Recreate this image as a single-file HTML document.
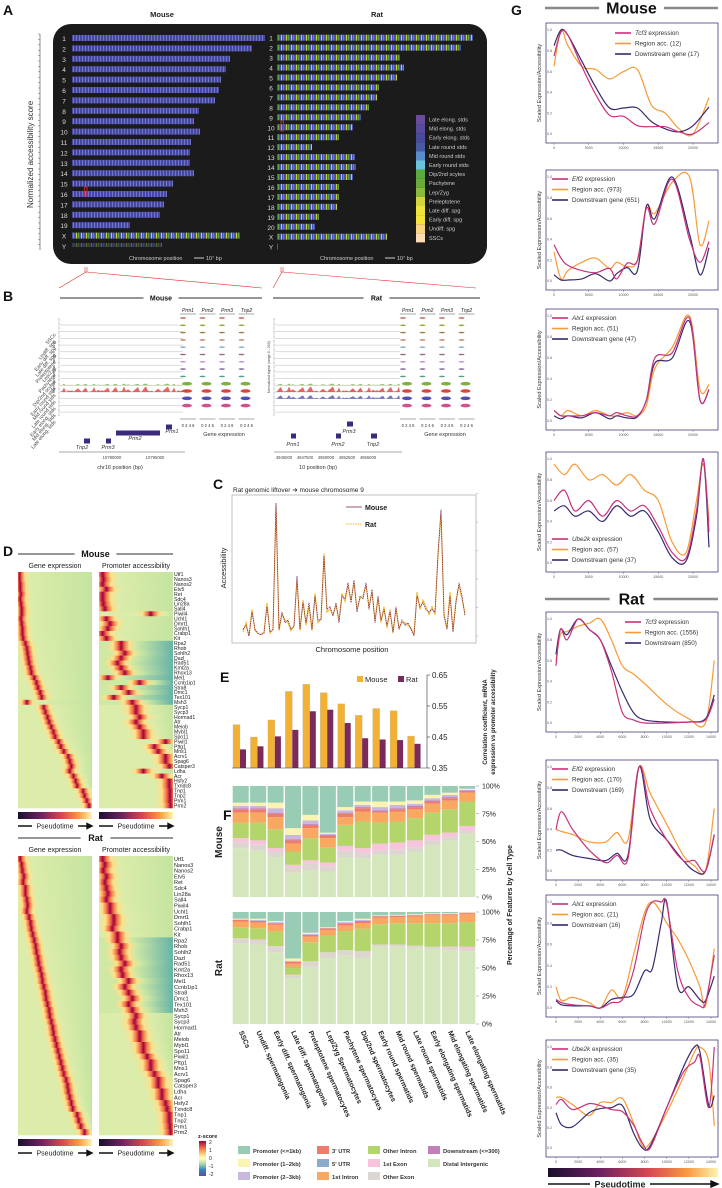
<!DOCTYPE html>
<html><head><meta charset="utf-8"><style>
html,body{margin:0;padding:0;background:#fff;}
svg{display:block;font-family:"Liberation Sans",sans-serif;}
</style></head><body>
<svg id="root" width="722" height="1188" viewBox="0 0 722 1188" xmlns="http://www.w3.org/2000/svg">
<defs id="defs">
<pattern id="mpat" width="3" height="8" patternUnits="userSpaceOnUse"><rect width="3" height="8" fill="#4848a4"/><rect x="1" width="1" height="8" fill="#6c74c4"/></pattern>
<pattern id="rpat" width="5" height="8" patternUnits="userSpaceOnUse"><rect width="5" height="8" fill="#4a54a8"/><rect x="1" width="1" height="8" fill="#c8d040"/><rect x="3" width="1" height="8" fill="#5aa048"/></pattern>
<linearGradient id="magma" x1="0" x2="1"><stop offset="0" stop-color="#1a0f2e"/><stop offset="0.3" stop-color="#6b2160"/><stop offset="0.6" stop-color="#d84a50"/><stop offset="0.82" stop-color="#f89a40"/><stop offset="1" stop-color="#fcf4b0"/></linearGradient>
<linearGradient id="zgrad" x1="0" y1="0" x2="0" y2="1"><stop offset="0" stop-color="#9e0142"/><stop offset="0.2" stop-color="#f46d43"/><stop offset="0.4" stop-color="#fee08b"/><stop offset="0.5" stop-color="#ffffbf"/><stop offset="0.65" stop-color="#abdda4"/><stop offset="0.82" stop-color="#3288bd"/><stop offset="1" stop-color="#5e4fa2"/></linearGradient>
</defs>
</svg>
<script>
// ---------- DATA ----------
const mouseChrNames=["1","2","3","4","5","6","7","8","9","10","11","12","13","14","15","16","17","18","19","X","Y"];
const mouseChrEnd=[265,252,230,226,221,219,215,199,194,200,191,190,190,194,173,167,164,160,130,240,162];
const ratChrNames=["1","2","3","4","5","6","7","8","9","10","11","12","13","14","15","16","17","18","19","20","X","Y"];
const ratChrEnd=[473,461,400,404,397,379,377,369,361,353,339,312,355,356,353,339,339,337,319,315,387,278];
const cellLegend=["Late elong. stds","Mid elong. stds","Early elong. stds","Late round stds","Mid round stds","Early round stds","Dip/2nd scytes","Pachytene","Lep/Zyg","Preleptotene","Late diff. spg","Early diff. spg","Undiff. spg","SSCs"];
const cellColors=["#6a4c9c","#5a4a9c","#4a4a9a","#4a5aa0","#5a8ccc","#6cc4dc","#5aaa3c","#6aaa3c","#8aba3c","#d4d43c","#f0e43c","#f4e43c","#fcd47c","#fcdcb4"];

const cMouse=[0.05,0.08,0.0,0.18,0.05,0.02,0.01,0.02,0.22,0.03,0.05,1.0,0.05,0.18,0.1,0.12,0.05,0.07,0.45,0.05,0.25,0.1,0.25,0.05,0.3,0.12,0.12,0.6,0.2,0.22,0.15,0.25,0.1,0.3,0.28,0.4,0.25,0.42,0.18,0.3,0.28,0.4,0.2,0.35,0.1,0.3,0.12,0.2,0.08,0.18,0.03,0.22,0.05,0.12,0.08,0.1,0.05,0.0,0.3,0.22,0.25,0.2,0.18,0.2,0.18,0.62,0.95,0.15,0.05,0.3,0.03,0.25,0.4,0.3,0.15];
const cRat=[0.03,0.1,0.0,0.2,0.04,0.02,0.01,0.03,0.25,0.02,0.05,0.98,0.04,0.16,0.12,0.1,0.04,0.08,0.42,0.04,0.27,0.08,0.22,0.04,0.32,0.1,0.13,0.62,0.18,0.2,0.16,0.23,0.12,0.32,0.26,0.38,0.27,0.4,0.2,0.28,0.3,0.38,0.22,0.33,0.12,0.28,0.1,0.22,0.06,0.2,0.02,0.2,0.06,0.1,0.1,0.08,0.06,0.01,0.33,0.2,0.27,0.22,0.16,0.22,0.16,0.6,0.92,0.17,0.06,0.33,0.04,0.27,0.38,0.28,0.17];

const eMouse=[0.49,0.45,0.505,0.597,0.62,0.593,0.557,0.52,0.542,0.535,0.453];
const eRat=[0.41,0.42,0.452,0.473,0.533,0.538,0.495,0.446,0.442,0.44,0.428];
const eTicks=[0.35,0.45,0.55,0.65];

const fCats=["SSCs","Undiff. spermatogonia","Early diff. spermatogonia","Late diff. spermatogonia","Preleptotene spermatocytes","Lep/Zyg Spermatocytes","Pachytene spermatocytes","Dip/2nd spermatocytes","Early round spermatids","Mid round spermatids","Late round spermatids","Early elongating spermatids","Mid elongating spermatids","Late elongating spermatids"];
const fFeatures=["Distal Intergenic","Other Exon","1st Exon","Other Intron","1st Intron","3' UTR","Downstream (<=300)","Promoter (2–3kb)","Promoter (1–2kb)","Promoter (<=1kb)"];
const fColors=["#d4e6bc","#ddd5cf","#f8c4dc","#b4d46c","#f8a860","#ee7c6c","#c080b8","#c8b8dc","#fbf4b0","#98ccb4"];
const fMouse=[[44,5,4,14,9,3,1,2,3],[42,5,4,16,9,3,1,2,3],[36,5,3,17,11,3,1,4,5],[22,5,2,12,7,3,1,4,6],[24,6,3,20,9,3,1,3,5],[23,5,3,14,8,2,1,1,1],[36,6,4,19,7,3,1,2,3],[35,5,4,24,9,3,1,2,3],[38,4,6,19,9,1,1,3,5],[38,5,6,19,9,2,1,3,3],[41,4,6,20,8,2,1,2,3],[47,4,5,20,8,2,1,2,3],[51,3,4,21,8,2,1,2,2],[57,3,4,22,8,1,1,0.5,1]];
const fRat=[[72,4,0.5,10,5,1.5,0,0.5,0.5],[71,4,0.5,10,5,1.5,0,1,1],[64,5,0.5,13,6,1.5,0,1,1],[41,2,1,6,4,1.5,0,1,2],[51,5,0,17,5,1.5,0,1,1],[59,5,0,15,5,1.5,0,0.5,0.5],[61,5,0,17,5,2,0,1,1],[59,6,0,20,5,2,0,1,1],[69,2,0,18,6,1,0,0.5,0.5],[69,2,0,19,5.5,1,0,0.5,0.5],[68,2,0,20,6,1,0,0.5,0.5],[67,2,0,21,7,1,0,0.5,0.5],[66,2,1,21,7,1,0,0.5,0.5],[65,2,2,22,7,1,0,0.5,0.5]];
const fTicks=[0,25,50,75,100];

const dGenes=["Utf1","Nanos3","Nanos2","Etv5","Ret","Sdc4","Lin28a","Sall4","Piwil4","Uchl1","Dmrt1","Sohlh1","Crabp1","Kit","Rpa2","Rhob","Sohlh2","Dazl","Rad51","Kmt2a","Rhox13","Mei1","Ccnb1ip1","Stra8","Dmc1","Tex101","Msh3","Sycp1","Sycp3","Hormad1","Atr","Meiob","Mybl1","Spo11","Piwil1","Pttg1","Mns1","Acrv1","Spag6","Catsper3","Ldha","Acr","Hsfy2","Txndc8","Tnp1","Tnp2","Prm1","Prm2"];
const dExpM=[0.02,0.02,0.03,0.03,0.04,0.03,0.04,0.05,0.05,0.04,0.05,0.06,0.06,0.07,0.1,0.12,0.13,0.14,0.15,0.17,0.18,0.22,0.25,0.27,0.3,0.32,0.12,0.35,0.37,0.4,0.42,0.45,0.48,0.5,0.55,0.58,0.62,0.68,0.7,0.72,0.7,0.75,0.78,0.8,0.88,0.9,0.93,0.96];
const dAccM=[0.05,0.06,0.05,0.1,0.05,0.05,0.06,0.08,0.7,0.1,0.15,0.12,0.05,0.1,0.3,0.3,0.35,0.3,0.25,0.3,0.35,0.12,0.55,0.3,0.4,0.2,0.45,0.5,0.5,0.55,0.5,0.55,0.6,0.6,0.9,0.75,0.8,0.9,0.9,0.95,0.6,0.85,0.95,0.95,0.96,0.96,0.96,0.97];
const dExpR=[0.03,0.05,0.06,0.08,0.07,0.1,0.1,0.12,0.13,0.12,0.15,0.17,0.18,0.2,0.22,0.24,0.25,0.27,0.28,0.3,0.32,0.33,0.35,0.37,0.38,0.4,0.42,0.43,0.45,0.47,0.48,0.5,0.52,0.54,0.56,0.58,0.6,0.62,0.65,0.67,0.68,0.7,0.72,0.74,0.8,0.82,0.85,0.9];
const dAccR=[0.05,0.08,0.06,0.1,0.08,0.1,0.12,0.1,0.15,0.15,0.2,0.2,0.18,0.25,0.25,0.3,0.28,0.3,0.35,0.3,0.32,0.4,0.35,0.4,0.45,0.4,0.45,0.5,0.48,0.5,0.55,0.55,0.6,0.6,0.65,0.7,0.7,0.75,0.8,0.8,0.85,0.85,0.9,0.92,0.95,0.95,0.96,0.97];

const gPanels=[
 {gene:"Tcf3",sp:"m",y0:23,y1:143,leg:"tr",labels:["Region acc. (12)","Downstream gene (17)"],xs:[0,1000,2000,4000,6000,8000,10000,12000,14000,16000,18000,20000,22300]},
 {gene:"Elf2",sp:"m",y0:170,y1:290,leg:"tl",labels:["Region acc. (973)","Downstream gene (651)"],xs:[0,1000,2000,4000,6000,8000,9000,10500,12000,13300,14500,17000,19500,21000,22300]},
 {gene:"Alx1",sp:"m",y0:309,y1:430,leg:"tl",labels:["Region acc. (51)","Downstream gene (47)"],xs:[0,1000,2000,4000,6000,8000,9000,10500,12000,13300,14500,17000,19500,21000,22300]},
 {gene:"Ube2k",sp:"m",y0:452,y1:572,leg:"bl",labels:["Region acc. (57)","Downstream gene (37)"],xs:[0,1500,3000,5000,7000,9000,11000,13000,15000,17000,19000,20500,21500,22300]},
 {gene:"Tcf3",sp:"r",y0:612,y1:732,leg:"tr",labels:["Region acc. (1556)","Downstream (850)"],xs:[0,400,1000,2000,3000,4000,5000,6000,7000,8000,10000,12000,13500,14300]},
 {gene:"Elf2",sp:"r",y0:760,y1:880,leg:"tl",labels:["Region acc. (170)","Downstream (169)"],xs:[0,500,1500,3000,4500,5500,6500,7500,8500,10000,11500,12500,13500,14300]},
 {gene:"Alx1",sp:"r",y0:895,y1:1017,leg:"tl",labels:["Region acc. (21)","Downstream (16)"],xs:[0,500,1500,3000,4000,5000,6000,7000,8000,8700,9500,10000,11000,12000,13000,13500,14300]},
 {gene:"Ube2k",sp:"r",y0:1040,y1:1157,leg:"tl",labels:["Region acc. (35)","Downstream gene (35)"],xs:[0,500,1500,3000,4000,5000,6000,7000,7800,8500,10000,11500,12500,13000,13800,14300]}
];
const gExp=[
 [0.75,0.98,0.95,0.65,0.38,0.18,0.17,0.08,0.07,0.07,0.02,0.0,0.11],
 [0.35,0.22,0.15,0.1,0.08,0.12,0.02,0.17,0.2,0.7,0.55,0.98,0.4,0.18,0.38],
 [0.1,0.05,0.05,0.05,0.08,0.05,0.08,0.05,0.05,0.2,0.6,0.65,0.98,0.2,0.3],
 [0.6,0.7,0.5,0.6,0.45,0.6,0.5,0.55,0.35,0.1,0.05,0.5,1.0,0.3],
 [0.55,0.9,0.8,1.0,0.9,0.8,0.5,0.1,0.03,0.0,0.0,0.01,0.03,0.23],
 [0.4,0.57,0.4,0.2,0.08,0.15,0.12,1.0,0.6,0.3,0.1,0.1,0.0,0.35],
 [0.08,0.05,0.03,0.02,0.0,0.05,0.08,0.35,0.85,1.0,1.0,0.98,0.35,0.1,0.02,0.05,0.5],
 [0.43,0.48,0.38,0.44,0.42,0.38,0.36,0.23,0.05,0.0,0.4,0.75,0.85,0.9,0.4,1.0]];
const gReg=[
 [0.65,1.0,0.85,0.65,0.62,0.53,0.6,0.62,0.28,0.2,0.05,0.0,0.35],
 [0.28,0.02,0.1,0.18,0.22,0.12,0.18,0.14,0.2,0.72,0.65,0.95,1.0,0.35,0.58],
 [0.1,0.05,0.1,0.05,0.1,0.05,0.05,0.08,0.05,0.15,0.5,0.7,1.0,0.3,0.35],
 [0.95,0.85,0.95,0.8,0.85,0.75,0.85,0.7,0.6,0.2,0.1,0.6,0.95,0.4],
 [0.6,0.85,0.88,0.93,0.96,1.0,0.8,0.55,0.47,0.38,0.18,0.04,0.0,0.6],
 [0.4,0.38,0.35,0.28,0.28,0.37,0.3,1.0,0.75,0.45,0.15,0.05,0.0,0.6],
 [0.2,0.07,0.1,0.05,0.0,0.17,0.1,0.5,0.9,1.0,0.9,0.8,0.65,0.45,0.2,0.02,0.56],
 [0.5,0.5,0.43,0.32,0.45,0.45,0.49,0.25,0.02,0.05,0.35,0.7,0.95,1.0,0.85,0.22]];
const gDown=[
 [0.85,1.0,0.95,0.7,0.45,0.25,0.25,0.25,0.12,0.05,0.02,0.08,0.26],
 [0.06,0.01,0.01,0.02,0.07,0.0,0.07,0.13,0.1,0.72,0.6,1.0,0.45,0.06,0.32],
 [0.05,0.02,0.05,0.03,0.08,0.02,0.05,0.03,0.04,0.2,0.55,0.6,0.95,0.2,0.3],
 [0.5,0.55,0.45,0.5,0.4,0.55,0.45,0.5,0.3,0.05,0.02,0.45,1.0,0.15],
 [0.66,0.9,0.85,1.0,0.9,0.8,0.55,0.3,0.1,0.03,0.01,0.01,0.04,0.27],
 [0.2,0.2,0.15,0.12,0.1,0.17,0.15,1.0,0.5,0.3,0.1,0.0,0.0,0.35],
 [0.07,0.03,0.02,0.02,0.0,0.08,0.1,0.13,0.35,0.37,0.8,1.0,0.2,0.2,0.08,0.07,0.3],
 [0.35,0.23,0.21,0.35,0.39,0.4,0.42,0.15,0.0,0.02,0.4,0.8,1.0,0.95,0.42,0.52]];
const gMouseTicks=[0,5000,10000,15000,20000];
const gRatTicks=[0,2000,4000,6000,8000,10000,12000,14000];
const gYTicks=[0,0.2,0.4,0.6,0.8,1.0];

// ---------- HELPERS ----------
const NS="http://www.w3.org/2000/svg";
const svg=document.getElementById('root');
const defs=document.getElementById('defs');
function mk(tag,attrs,parent){const e=document.createElementNS(NS,tag);for(const k in attrs)e.setAttribute(k,attrs[k]);(parent||svg).appendChild(e);return e;}
function tx(x,y,s,attrs,parent){const e=mk('text',Object.assign({x:x,y:y,'font-size':7,fill:'#222'},attrs||{}),parent);e.textContent=s;return e;}
function grp(parent){return mk('g',{},parent);}
function smooth(pts){let d="M"+pts[0][0].toFixed(1)+","+pts[0][1].toFixed(1);for(let i=0;i<pts.length-1;i++){const p0=pts[i-1]||pts[i],p1=pts[i],p2=pts[i+1],p3=pts[i+2]||p2;const c1x=p1[0]+(p2[0]-p0[0])/6,c1y=p1[1]+(p2[1]-p0[1])/6,c2x=p2[0]-(p3[0]-p1[0])/6,c2y=p2[1]-(p3[1]-p1[1])/6;d+=` C${c1x.toFixed(1)},${c1y.toFixed(1)} ${c2x.toFixed(1)},${c2y.toFixed(1)} ${p2[0].toFixed(1)},${p2[1].toFixed(1)}`;}return d;}

// panel letters
[["A",3,15],["B",3,301],["C",213,489],["D",3,556],["E",220,682],["F",223,820],["G",511,15]].forEach(l=>{
 const t=tx(l[1],l[2],l[0],{'font-size':14,'font-weight':'bold',fill:'#111'});
 
 
});

// ---------- PANEL A ----------
const gA=grp();


let t=tx(162,17,"Mouse",{'font-size':7.5,'font-weight':'bold','text-anchor':'middle'},gA);


t=tx(377,17,"Rat",{'font-size':7.5,'font-weight':'bold','text-anchor':'middle'},gA);


t=tx(0,0,"Normalized accessibility score",{'font-size':8,transform:'translate(33,208) rotate(-90)',fill:'#333'},gA);


let ax=mk('line',{x1:40,y1:34,x2:40,y2:250,stroke:'#444','stroke-width':0.6},gA);


for(let i=0;i<40;i++){const tk=mk('line',{x1:38,x2:40,y1:34+i*5.4,y2:34+i*5.4,stroke:'#444','stroke-width':0.4},gA);
 
 }
const box=mk('rect',{x:53,y:24,width:434,height:240,rx:18,fill:'#1b1b1b'},gA);


mouseChrNames.forEach((n,i)=>{const y=38+i*10.4;
 const l=tx(64,y+3,n,{'font-size':6.5,fill:'#ddd','text-anchor':'middle'},gA);
 
 
 const b=mk('rect',{x:72,y:y-3,width:mouseChrEnd[i]-72,height:i===20?4:6,fill:i>=19?'url(#rpat)':'url(#mpat)',opacity:i===20?0.4:1},gA);
 
 });
ratChrNames.forEach((n,i)=>{const y=37.7+i*9.95;
 const l=tx(271,y+3,n,{'font-size':6.5,fill:'#ddd','text-anchor':'middle'},gA);
 
 
 const b=mk('rect',{x:277,y:y-3,width:ratChrEnd[i]-277,height:6,fill:'url(#rpat)'},gA);
 
 });
let hl=mk('rect',{x:84.5,y:187,width:2.5,height:9,fill:'none',stroke:'#e03030','stroke-width':0.8},gA);


hl=mk('rect',{x:281,y:121,width:2.5,height:10,fill:'none',stroke:'#e03030','stroke-width':0.8},gA);


cellLegend.forEach((c,i)=>{const y=115+i*9.1;
 const s=mk('rect',{x:416,y:y,width:9,height:9.1,fill:cellColors[i]},gA);
 
 
 const l=tx(429,y+6.5,c,{'font-size':5.5,fill:'#ccc'},gA);
 
 });
[[129,"mouse"],[320,"rat"]].forEach(p=>{
 const l=tx(p[0],260,"Chromosome position",{'font-size':5.5,fill:'#ccc'},gA);
 
 
 const sb=mk('line',{x1:p[0]+65,x2:p[0]+75,y1:258,y2:258,stroke:'#ccc','stroke-width':1},gA);
 
 
 const l2=tx(p[0]+77,260,"10⁷ bp",{'font-size':5.5,fill:'#ccc'},gA);
 
 });
[[86,59,262],[282,273,476]].forEach(p=>{
 const z=mk('path',{d:`M${p[0]-1},267 v5 h2 v-5 M${p[0]},272 L${p[1]},288 M${p[0]},272 L${p[2]},288`,fill:'none',stroke:'#e03030','stroke-width':0.6},gA);
 
 });

// ---------- PANEL B ----------
const gB=grp();


function header(g,x0,x1,y,label,size,col){
 const w=label.length*size*0.33+6, c=(x0+x1)/2;
 const l1=mk('line',{x1:x0,x2:c-w,y1:y,y2:y,stroke:col||'#888','stroke-width':size>10?2.5:1.8},g);
 
 
 const l2=mk('line',{x1:c+w,x2:x1,y1:y,y2:y,stroke:col||'#888','stroke-width':size>10?2.5:1.8},g);
 
 
 const tt=tx(c,y+size*0.35,label,{'font-size':size,'font-weight':'bold','text-anchor':'middle',fill:'#111'},g);
 
 }
header(gB,60,262,298,"Mouse",7);
header(gB,273,480,298,"Rat",7);
const trackLabels=["SSCs","Undiff. spg","Early diff. spg","Late diff. spg","Preleptotene","Lep/Zyg","Pachytene","Dip/2nd scytes","Early round stds","Mid round stds","Late round stds","Early elong. stds","Mid elong. stds","Late elong. stds"];
const trackCols=["#c06060","#a0a030","#a08040","#c08060","#80b0c0","#a07070","#c090c0","#8060a0","#50a080","#80b040","#e04040","#5050b0","#d05090","#e08020"];
trackLabels.forEach((n,i)=>{const y=325+i*6.7;
 const l=tx(0,0,n,{'font-size':5,fill:'#444','text-anchor':'end',transform:`translate(56,${y+10}) rotate(-50)`},gB);
 
 });
[[60,183,"mouse"],[275,400,"rat"]].forEach((p,k)=>{
 const a=mk('line',{x1:p[0]-1,x2:p[0]-1,y1:318,y2:416,stroke:'#666','stroke-width':0.8,'stroke-dasharray':'0.5 0.8'},gB);
 
 
 const yl=tx(0,0,k?"Normalized signal (range 0 - 200)":"Normalized signal (range 0 - 310)",{'font-size':3.5,fill:'#444','text-anchor':'middle',transform:`translate(${p[0]-5},367) rotate(-90)`},gB);
 
 
 trackLabels.forEach((n,i)=>{const y=325+i*6.7;
  const ln=mk('line',{x1:p[0],x2:p[1],y1:y,y2:y,stroke:'#aaa','stroke-width':0.4},gB);
  
  });
 // signal tracks
 const sig=[[9,trackCols[9],2],[10,trackCols[10],6],[11,trackCols[11],k?4:0]];
 sig.forEach(s=>{if(!s[2])return;const y=325+s[0]*6.7;let d=`M${p[0]},${y}`;
  for(let x=p[0];x<=p[1];x+=2){const h=((x*7)%11)/11*s[2]*(((x*13)%5)>1?1:0.3);d+=` L${x},${(y-h).toFixed(1)}`;}
  d+=` L${p[1]},${y} Z`;
  const a2=mk('path',{d:d,fill:s[1],opacity:0.8},gB);
  
  });
 const genes=["Prm1","Prm2","Prm3","Tnp2"];
 genes.forEach((g,j)=>{const cx=(k?408:188)+j*19.5;
  const gn=tx(cx,312,g,{'font-size':5,'font-style':'italic','text-anchor':'middle'},gB);
  
  
  const ul=mk('line',{x1:cx-8,x2:cx+8,y1:314,y2:314,stroke:'#555','stroke-width':0.5},gB);
  
  
  for(let i=0;i<13;i++){const y=318+i*7.3;const big=i>=9;
   const v=mk('ellipse',{cx:cx-6+(big?5:1),cy:y,rx:big?5:3,ry:big?1.8:0.8,fill:trackCols[i]},gB);
   
   }
  const bx=mk('line',{x1:cx-8,x2:cx+8,y1:419,y2:419,stroke:'#555','stroke-width':0.5},gB);
  
  
  const tl=tx(cx,427,"0 2 4 6",{'font-size':4.2,'text-anchor':'middle',fill:'#333'},gB);
  
  });
 const ge=tx(k?445:224,436,"Gene expression",{'font-size':5.5,'text-anchor':'middle',fill:'#333'},gB);
 
 
 const bl=mk('line',{x1:p[0]-1,x2:p[1]+2,y1:452,y2:452,stroke:'#555','stroke-width':0.6},gB);
 
 
});
const geneModels=[[168,427,"Prm1",172,433,6],[118,433,"Prm2",135,440,44],[86,441,"Tnp2",82,449,6],[108,441,"Prm3",108,449,5],[349,424,"Prm3",349,433,6],[293,436,"Prm1",293,446,5],[338,436,"Prm2",338,446,5],[373,436,"Tnp2",373,446,6]];
geneModels.forEach(g=>{
 const r=mk('rect',{x:g[0]-2,y:g[1]-2.5,width:g[5],height:5,fill:'#3c2a7c'},gB);
 
 
 const l=tx(g[3],g[4],g[2],{'font-size':5.5,'font-style':'italic','text-anchor':'middle',fill:'#333'},gB);
 
 });
[[112,"10790000"],[155,"10795000"],[284,"4945000"],[305,"4947500"],[326,"4950000"],[347,"4952500"],[368,"4955000"]].forEach(p=>{
 const l=tx(p[0],459,p[1],{'font-size':4.2,'text-anchor':'middle',fill:'#444'},gB);
 
 });
t=tx(120,469,"chr16 position (bp)",{'font-size':5.5,'text-anchor':'middle',fill:'#333'},gB);


t=tx(318,469,"10 position (bp)",{'font-size':5.5,'text-anchor':'middle',fill:'#333'},gB);



// ---------- PANEL C ----------
const gC=grp();


const cX0=243,cX1=465,cYt=503,cYb=636;
const cx=i=>cX0+(cX1-cX0)*i/(cMouse.length-1);
const cy=v=>cYb-(cYb-cYt)*v;
t=tx(233,492,"Rat genomic liftover ➔ mouse chromosome 9",{'font-size':6.5,fill:'#222'},gC);


const cb=mk('rect',{x:232,y:495,width:244,height:148,fill:'none',stroke:'#999','stroke-width':0.6},gC);


[0,1,2,3,4,5].forEach(i=>{const tk=mk('line',{x1:476,x2:478,y1:cYb-i*28.5,y2:cYb-i*28.5,stroke:'#999','stroke-width':0.5},gC);
 
 });
let rl=mk('polyline',{points:cRat.map((v,i)=>cx(i)+","+cy(v)).join(" "),fill:'none',stroke:'#f4b830','stroke-width':1.1},gC);


let ml=mk('polyline',{points:cMouse.map((v,i)=>cx(i)+","+cy(v)).join(" "),fill:'none',stroke:'#7a2860','stroke-width':0.8,'stroke-dasharray':'1.5 0.8'},gC);


let lg=mk('line',{x1:346,x2:362,y1:507,y2:507,stroke:'#7a2860','stroke-width':0.8},gC);


t=tx(365,510,"Mouse",{'font-size':7,'font-weight':'bold'},gC);


lg=mk('line',{x1:346,x2:362,y1:524,y2:524,stroke:'#f4b830','stroke-width':1.1,'stroke-dasharray':'1.5 0.8'},gC);


t=tx(365,527,"Rat",{'font-size':7,'font-weight':'bold'},gC);


t=tx(0,0,"Accessibility",{'font-size':7.5,'text-anchor':'middle',transform:'translate(226,568) rotate(-90)'},gC);


t=tx(352,652,"Chromosome position",{'font-size':7.5,'text-anchor':'middle'},gC);



// ---------- PANEL E ----------
const gE=grp();


const eY=v=>768-(v-0.35)/(0.30)*93;
const eSlot=(425-233)/eMouse.length;
eMouse.forEach((v,i)=>{const x=233+i*eSlot;
 const b=mk('rect',{x:x,y:eY(v),width:7,height:768-eY(v),fill:'#f2b132',stroke:'#bbb','stroke-width':0.3},gE);
 
 
 const b2=mk('rect',{x:x+7,y:eY(eRat[i]),width:6,height:768-eY(eRat[i]),fill:'#7b2a5c'},gE);
 
 });
let ea=mk('line',{x1:232,x2:427,y1:768,y2:768,stroke:'#333','stroke-width':0.6},gE);


ea=mk('line',{x1:427,x2:427,y1:675,y2:768,stroke:'#333','stroke-width':0.6},gE);


eTicks.forEach(v=>{const tk=mk('line',{x1:427,x2:430,y1:eY(v),y2:eY(v),stroke:'#333','stroke-width':0.6},gE);
 
 
 const l=tx(432,eY(v)+3,v.toFixed(2),{'font-size':8},gE);
 
 });
let es=mk('rect',{x:357,y:676,width:6,height:6,fill:'#f2b132'},gE);


t=tx(365,682,"Mouse",{'font-size':7.5},gE);


es=mk('rect',{x:398,y:676,width:6,height:6,fill:'#7b2a5c'},gE);


t=tx(406,682,"Rat",{'font-size':7.5},gE);


t=tx(0,0,"Correlation coefficient, mRNA",{'font-size':6,'text-anchor':'middle','font-weight':'bold',transform:'translate(487,722) rotate(-90)'},gE);


t=tx(0,0,"expression vs promoter accessibility",{'font-size':6,'text-anchor':'middle','font-weight':'bold',transform:'translate(495,722) rotate(-90)'},gE);



// ---------- PANEL F ----------
const gF=grp();


const fSlot=(476-232)/fCats.length;
function fPanel(data,yTop,yBot,sp){
 const sc=(yBot-yTop)/100;
 data.forEach((row,i)=>{let acc=0;const x=232+i*fSlot+0.7;
  const vals=row.concat([Math.max(0,100-row.reduce((a,b)=>a+b,0))]);
  vals.forEach((v,k)=>{if(v<=0)return;
   const r=mk('rect',{x:x,y:yBot-(acc+v)*sc,width:fSlot-1.4,height:v*sc,fill:fColors[k]},gF);
   
   
   acc+=v;});});
 fTicks.forEach(v=>{const y=yBot-v*sc;
  const l=tx(482,y+2.5,v+"%",{'font-size':7},gF);
  
  
  const tk=mk('line',{x1:476,x2:479,y1:y,y2:y,stroke:'#666','stroke-width':0.4},gF);
  
  });}
fPanel(fMouse,786,897,'mouse');
fPanel(fRat,912,1024,'rat');
t=tx(0,0,"Mouse",{'font-size':10,'font-weight':'bold','text-anchor':'middle',transform:'translate(222,842) rotate(-90)'},gF);


t=tx(0,0,"Rat",{'font-size':10,'font-weight':'bold','text-anchor':'middle',transform:'translate(222,968) rotate(-90)'},gF);


t=tx(0,0,"Percentage of Features by Cell Type",{'font-size':7,'font-weight':'bold','text-anchor':'middle',transform:'translate(512,905) rotate(-90)'},gF);


fCats.forEach((c,i)=>{const x=232+i*fSlot+fSlot/2-2;
 const l=tx(0,0,c,{'font-size':7,'font-weight':'bold',transform:`translate(${x},1032) rotate(66)`},gF);
 
 });
const fLegOrder=[[9,0,0],[8,0,1],[7,0,2],[5,1,0],[-1,1,1],[4,1,2],[3,2,0],[2,2,1],[1,2,2],[6,3,0],[0,3,1]];
const fLegCols=[238,317,368,428];
fLegOrder.forEach(o=>{const x=fLegCols[o[1]],y=1146+o[2]*13;
 const s=mk('rect',{x:x,y:y,width:12,height:8,fill:o[0]<0?'#8caccc':fColors[o[0]]},gF);
 
 
 const l=tx(x+15,y+7,o[0]<0?"5' UTR":fFeatures[o[0]],{'font-size':5.8,'font-weight':'bold',fill:'#333'},gF);
 
 });

// ---------- PANEL D ----------
const gD=grp();


let gid=0;
function heatRow(x,y,w,h,peak,width,blueRight){
 const id='hg'+(gid++);const lg=mk('linearGradient',{id:id,x1:0,x2:1},defs);
 const base=blueRight?'#cfe8a4':'#dcecaa';
 const st=[[0,base],[peak-width*2.2,base],[peak-width*1.2,'#fee08b'],[peak-width*0.5,'#f46d43'],[peak,'#9e0142'],[peak+width*0.5,'#f46d43'],[peak+width*1.2,'#fee08b'],[peak+width*2.2,base],[1,blueRight?'#66b4a8':'#c4e4a0']];
 st.forEach(s=>mk('stop',{offset:Math.min(1,Math.max(0,s[0])),'stop-color':s[1]},lg));
 const r=mk('rect',{x:x,y:y,width:w,height:h+0.3,fill:`url(#${id})`},gD);
 return r;}
function heatBlock(sp,yTop,yBot,exp,accv){
 const h=(yBot-yTop)/dGenes.length;
 header(gD,18,173,yTop-18,sp==='mouse'?"Mouse":"Rat",9);
 let l=tx(55,yTop-4,"Gene expression",{'font-size':7,'text-anchor':'middle'},gD);
 
 
 l=tx(136,yTop-4,"Promoter accessibility",{'font-size':7,'text-anchor':'middle'},gD);
 
 
 dGenes.forEach((g,i)=>{const y=yTop+i*h;
  const r1=heatRow(18,y,74,h,exp[i],0.06,false);
  
  
  const r2=heatRow(99,y,74,h,accv[i],0.09,i>13&&i<27);
  
  
  const gl=tx(174,y+h*0.85,g,{'font-size':Math.min(5.6,h*1.05),fill:'#222'},gD);
  
  });
 [18,99].forEach(x=>{
  const pb=mk('rect',{x:x,y:yBot+4,width:74,height:7,fill:'url(#magma)'},gD);
  
  
  const ar=mk('path',{d:`M${x},${yBot+18} h14 M${x+60},${yBot+18} h12 M${x+74},${yBot+18} l-5,-2.5 v5 z`,stroke:'#111','stroke-width':1.4,fill:'#111'},gD);
  
  
  const pt=tx(x+37,yBot+20.5,"Pseudotime",{'font-size':7,'text-anchor':'middle'},gD);
  
  });}
heatBlock('mouse',572,808,dExpM,dAccM);
heatBlock('rat',856,1135,dExpR,dAccR);
let zb=mk('rect',{x:199,y:1141,width:7,height:35,fill:'url(#zgrad)'},gD);


t=tx(198,1138,"z-score",{'font-size':5.5,'font-weight':'bold'},gD);


["2","1","0","-1","-2"].forEach((s,i)=>{const l=tx(209,1144+i*8,s,{'font-size':5},gD);
 
 });

// ---------- PANEL G ----------
const gG=grp();


header(gG,545,718,8,"Mouse",16);
header(gG,545,718,599,"Rat",16);
const gCols=['#c8327a','#f79a35','#3a2770'];
gPanels.forEach((p,pi)=>{
 const g=grp(gG);
 
 
 const xmax=p.sp==='m'?22300:14300;
 const X=v=>p.sp==='m'?554+v*(709-554)/22300:556+v*(711-556)/14000;
 const Y=v=>(p.y1-9)-v*(p.y1-p.y0-16);
 const fr=mk('rect',{x:546,y:p.y0,width:172,height:p.y1-p.y0,fill:'#fff',stroke:'#4a3a7c','stroke-width':0.8},g);
 
 
 gYTicks.forEach(v=>{const l=tx(552,Y(v)+1.2,v.toFixed(1),{'font-size':3.6,fill:'#555','text-anchor':'end'},g);
  
  });
 (p.sp==='m'?gMouseTicks:gRatTicks).forEach(v=>{
  const tk=mk('line',{x1:X(v),x2:X(v),y1:p.y1,y2:p.y1+2,stroke:'#555','stroke-width':0.4},g);
  
  
  const l=tx(X(v),p.y1+6,String(v),{'font-size':3.6,fill:'#555','text-anchor':'middle'},g);
  
  });
 const yl=tx(0,0,"Scaled Expression/Accessibility",{'font-size':5.6,fill:'#333','text-anchor':'middle',transform:`translate(541,${(p.y0+p.y1)/2}) rotate(-90)`},g);
 
 
 [gReg[pi],gDown[pi],gExp[pi]].forEach((arr,k)=>{
  const col=[gCols[1],gCols[2],gCols[0]][k];
  const ln=mk('path',{d:smooth(arr.map((v,i)=>[X(p.xs[i]),Y(v)])),fill:'none',stroke:col,'stroke-width':1.2},g);
  
  });
 let lx,ly;
 if(p.leg==='tr'){lx=p.sp==='m'?615:625;ly=p.y0+10;}
 else if(p.leg==='tl'){lx=552;ly=p.y0+9;}
 else{lx=552;ly=p.y1-33;}
 const names=[p.gene+" expression",p.labels[0],p.labels[1]];
 names.forEach((n,k)=>{const y=ly+k*10.5;
  const s=mk('line',{x1:lx,x2:lx+16,y1:y,y2:y,stroke:gCols[k],'stroke-width':1.6},g);
  
  
  const l=tx(lx+20,y+2.2,"",{'font-size':6.3,fill:'#333'},g);
  if(k===0){const ts=mk('tspan',{'font-style':'italic'},l);ts.textContent=p.gene;const ts2=mk('tspan',{},l);ts2.textContent=" expression";}
  else l.textContent=n;
  
  });
});
let pb=mk('rect',{x:548,y:1168,width:170,height:9,fill:'url(#magma)'},gG);


let pa=mk('path',{d:'M548,1184 h42 M650,1184 h62 M718,1184 l-7,-3 v6 z',stroke:'#111','stroke-width':1.4,fill:'#111'},gG);


t=tx(620,1187.5,"Pseudotime",{'font-size':9,'font-weight':'bold','text-anchor':'middle'},gG);


</script>
</body></html>
